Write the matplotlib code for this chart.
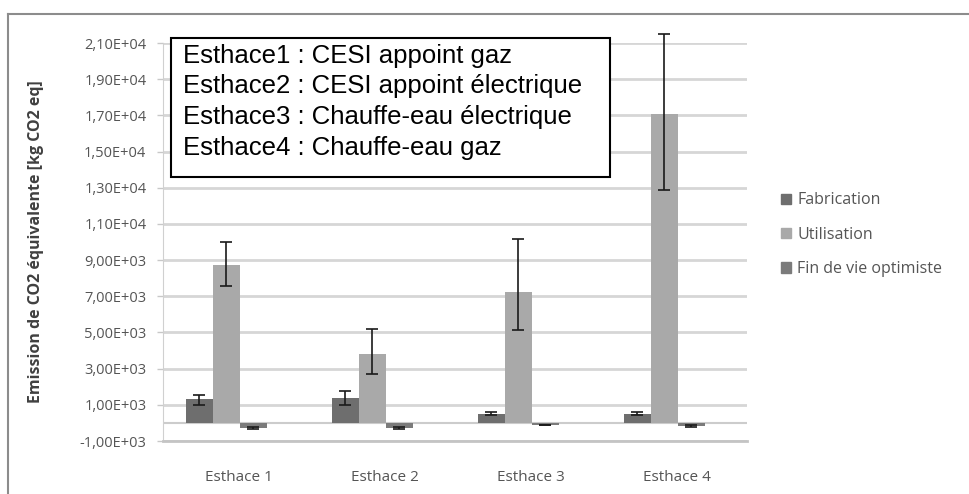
import matplotlib.pyplot as plt
import matplotlib.patches as mpatches
from matplotlib.lines import Line2D
from matplotlib.ticker import FixedLocator, FuncFormatter
import numpy as np

categories = ["Esthace 1", "Esthace 2", "Esthace 3", "Esthace 4"]
series = ["Fabrication", "Utilisation", "Fin de vie optimiste"]

fabrication = [1300, 1350, 520, 520]
fab_err_lo = [310, 380, 90, 90]
fab_err_hi = [240, 410, 90, 90]

utilisation = [8720, 3790, 7230, 17100]
util_err_lo = [1160, 1110, 2120, 4250]
util_err_hi = [1300, 1420, 2910, 4400]

fin_de_vie = [-300, -300, -120, -150]
fin_err_lo = [60, 60, 20, 50]
fin_err_hi = [60, 60, 20, 50]

box_lines = ["Esthace1 : CESI appoint gaz",
             "Esthace2 : CESI appoint électrique",
             "Esthace3 : Chauffe-eau électrique",
             "Esthace4 : Chauffe-eau gaz"]

yticks = list(range(-1000, 21001, 2000))

W, H = 969, 494
fig = plt.figure(figsize=(W / 100, H / 100), dpi=100)
ax = fig.add_axes([163 / W, 1 - 441 / H, (747 - 163) / W, (441 - 43) / H])

colors = ["#6e6e6e", "#a9a9a9", "#7b7b7b"]
x = np.arange(len(categories))
bw = 0.185
shift = 0.027
offsets = [-1.5 * bw + shift, -0.5 * bw + shift, 0.5 * bw + shift]
data = [(fabrication, fab_err_lo, fab_err_hi),
        (utilisation, util_err_lo, util_err_hi),
        (fin_de_vie, fin_err_lo, fin_err_hi)]

for (vals, lo, hi), off, c, name in zip(data, offsets, colors, series):
    ax.bar(x + off, vals, bw, color=c, label=name, zorder=3)
    eb = ax.errorbar(x + off, vals, yerr=[lo, hi], fmt='none', ecolor='#1a1a1a',
                     elinewidth=1.2, capsize=4, capthick=1.2, zorder=4)
    for art in list(eb.lines[1]) + list(eb.lines[2]):
        art.set_clip_on(False)

ax.set_xlim(-0.5, 3.5)
ax.set_ylim(-1000, 21000)
ax.yaxis.set_major_locator(FixedLocator(yticks))
ax.yaxis.set_major_formatter(FuncFormatter(
    lambda v, p: ("%.2E" % v).replace(".", ",")))
ax.set_xticks(x + 0.02)
ax.set_xticklabels(categories)
ax.tick_params(axis='x', length=0, pad=21, labelsize=11, labelcolor='#555555')
ax.tick_params(axis='y', length=4, width=1, color='#c8c8c8', pad=8,
               labelsize=10.5, labelcolor='#555555')
for lab in ax.get_xticklabels() + ax.get_yticklabels():
    lab.set_fontfamily('Open Sans')

ax.grid(axis='y', color='#d6d6d6', lw=2, zorder=0)
ax.axhline(0, color='#cccccc', lw=1.5, zorder=2)
for s in ['top', 'right']:
    ax.spines[s].set_visible(False)
ax.spines['left'].set_color('#d0d0d0')
ax.spines['bottom'].set_color('#c4c4c4')
ax.spines['bottom'].set_linewidth(2)

ax.set_ylabel("Emission de CO2 équivalente [kg CO2 eq]", fontsize=11.5,
              fontweight='bold', color='#404040', family='Open Sans')
ax.yaxis.set_label_coords(-(163 - 44) / (747 - 163), 0.5)

# text box
fig.add_artist(mpatches.Rectangle((171 / W, 1 - 177 / H), (610 - 171) / W, (177 - 38) / H,
                                  transform=fig.transFigure, fill=True, fc='white',
                                  ec='black', lw=1.5, zorder=5))
for i, line in enumerate(box_lines):
    fig.text(183 / W, 1 - (56 + 30.5 * i) / H, line, fontsize=18.5,
             family='Liberation Sans', va='center', ha='left', zorder=6)

# legend
handles = [mpatches.Patch(color=c) for c in colors]
leg = fig.legend(handles, series, loc='upper left', bbox_to_anchor=(767 / W, 1 - 178 / H),
                 frameon=False, handlelength=0.6, handleheight=0.6, handletextpad=0.4,
                 labelspacing=1.15, prop={'family': 'Open Sans', 'size': 11.5})
for t in leg.get_texts():
    t.set_color('#555555')

# outer frame
fig.add_artist(Line2D([8 / W, 1], [1 - 14 / H, 1 - 14 / H], transform=fig.transFigure,
                      color='#8c8c8c', lw=1.5))
fig.add_artist(Line2D([8 / W, 8 / W], [0, 1 - 14 / H], transform=fig.transFigure,
                      color='#8c8c8c', lw=1.5))

fig.savefig("out.png", dpi=100)
